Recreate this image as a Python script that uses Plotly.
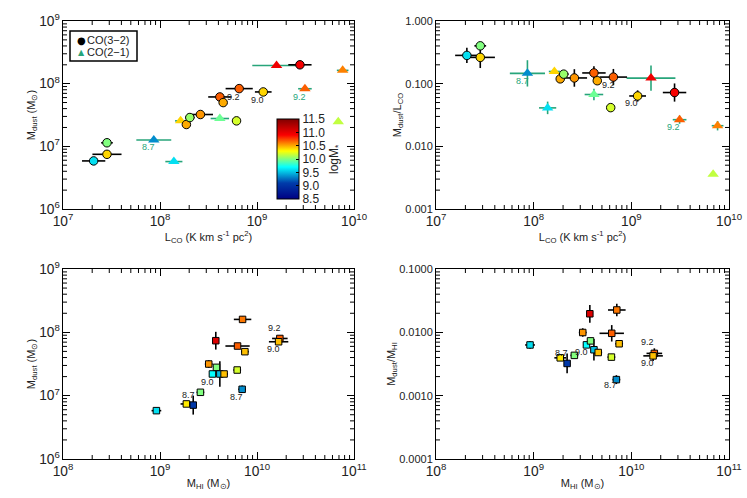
import numpy as np
import plotly.graph_objects as go

# ---------------- data ----------------
# CO(3-2) galaxies (circles)
c32_lco = [2.07e7, 2.84e7, 2.84e7, 1.87e8, 2.03e8, 2.61e8, 6.15e8, 4.14e8, 4.48e8, 6.55e8, 1.16e9, 2.77e9]
c32_mdust = [5.85e6, 7.46e6, 1.14e7, 2.23e7, 2.88e7, 3.22e7, 2.55e7, 6.14e7, 4.99e7, 8.34e7, 7.38e7, 2.00e8]
c32_logm = [9.6, 10.4, 10.0, 10.5, 10.05, 10.55, 10.2, 10.68, 10.5, 10.68, 10.4, 10.92]
c32_lco_err = [0.12, 0.15, 0.06, 0.0, 0.05, 0.13, 0.0, 0.12, 0.0, 0.14, 0.086, 0.12]   # dex
c32_ratio_err = [0.12, 0.17, 0.06, 0.0, 0.0, 0.14, 0.0, 0.105, 0.0, 0.13, 0.09, 0.145]  # dex

# CO(2-1) galaxies (triangles)
c21_lco = [8.63e7, 1.39e8, 1.63e8, 4.14e8, 1.59e9, 3.12e9, 6.88e9, 7.64e9]
c21_mdust = [1.26e7, 5.71e6, 2.55e7, 2.78e7, 1.95e8, 8.3e7, 2.47e7, 1.63e8]
c21_logm = [9.35, 9.6, 10.4, 9.95, 10.95, 10.68, 10.15, 10.6]
c21_lco_err = [0.18, 0.088, 0.057, 0.095, 0.25, 0.07, 0.0, 0.06]
c21_ratio_err = [0.21, 0.10, 0.0, 0.09, 0.20, 0.065, 0.0, 0.075]

# HI sample (squares)
hi_mhi = [9.18e8, 1.87e9, 2.2e9, 2.61e9, 3.18e9, 3.47e9, 3.82e9, 3.76e9, 4.14e9, 4.58e9,
          6.25e9, 7.03e9, 6.3e9, 7.5e9, 7.1e9, 1.72e10, 1.67e10]
hi_mdust = [5.8e6, 7.4e6, 7.1e6, 1.13e7, 3.16e7, 2.2e7, 2.8e7, 7.38e7, 2.2e7, 2.2e7,
            2.54e7, 1.26e7, 6.08e7, 4.95e7, 1.6e8, 8.0e7, 7.1e7]
hi_logm = [9.6, 10.35, 9.05, 10.0, 10.55, 9.7, 10.0, 11.05, 9.5, 10.45,
           10.2, 9.35, 10.68, 10.45, 10.62, 10.68, 10.45]
hi_mhi_err = [0.05, 0.06, 0.03, 0.04, 0.04, 0.03, 0.03, 0.03, 0.03, 0.04,
              0.04, 0.04, 0.125, 0.04, 0.09, 0.08, 0.10]
hi_mdust_err = [0.03, 0.03, 0.15, 0.03, 0.06, 0.03, 0.03, 0.14, 0.2, 0.03,
                0.03, 0.06, 0.04, 0.03, 0.05, 0.03, 0.03]
hi_ratio_err = [0.06, 0.05, 0.155, 0.04, 0.067, 0.04, 0.04, 0.14, 0.17, 0.05,
                0.05, 0.07, 0.13, 0.05, 0.10, 0.08, 0.08]

# metallicity labels: (text, x, y, colour-key)
labels_tl = [("9.2", 5.7e8, 6.1e7, "k"), ("9.0", 1.0e9, 5.4e7, "k"),
             ("8.7", 7.66e7, 9.9e6, "g"), ("9.2", 2.72e9, 6.1e7, "g")]
labels_tr = [("8.7", 7.6e7, 0.110, "g"), ("9.2", 5.77e8, 0.094, "k"),
             ("9.0", 1.0e9, 0.049, "k"), ("9.2", 2.71e9, 0.020, "g")]
labels_bl = [("9.2", 1.53e10, 1.16e8, "k"), ("9.0", 1.47e10, 5.46e7, "k"),
             ("9.0", 3.06e9, 1.62e7, "k"), ("8.7", 1.95e9, 1.02e7, "k"),
             ("8.7", 6.15e9, 9.4e6, "k")]
labels_br = [("9.2", 1.48e10, 0.0070, "k"), ("9.0", 1.45e10, 0.00334, "k"),
             ("8.7", 1.95e9, 0.0048, "k"), ("9.0", 3.08e9, 0.0049, "k"),
             ("8.7", 6.1e9, 0.00145, "k")]

cbar_ticks = [8.5, 9.0, 9.5, 10.0, 10.5, 11.0, 11.5]
legend_names = ["CO(3\u22122)", "CO(2\u22121)"]

# ---------------- helpers ----------------
GREEN = "#27a57a"
FONT = "Liberation Sans, Arial, sans-serif"
TXT = "#222222"
CMIN, CMAX = 8.5, 11.5
W, H = 747, 498


def errs(vals, dex):
    v = np.asarray(vals, float)
    d = np.asarray(dex, float)
    return v * (10 ** d - 1), v * (1 - 10 ** (-d))


c32_ratio = list(np.array(c32_mdust) / np.array(c32_lco))
c21_ratio = list(np.array(c21_mdust) / np.array(c21_lco))
hi_ratio = list(np.array(hi_mdust) / np.array(hi_mhi))

fig = go.Figure()


def add_pts(x, y, c, xerr, yerr, symbol, size, ecol, xa, ya, linew, lcol="black", showscale=False):
    marker = dict(color=c, colorscale="Jet", cmin=CMIN, cmax=CMAX, size=size,
                  symbol=symbol, line=dict(color=lcol, width=linew))
    if showscale:
        marker.update(showscale=True, colorbar=dict(
            x=277 / W, xanchor="left", xpad=0, ypad=0,
            y=1 - 159 / H, yanchor="middle",
            len=80 / H, lenmode="fraction", thickness=22, thicknessmode="pixels",
            outlinewidth=1, outlinecolor="black", ticks="inside", ticklen=3,
            tickcolor="black", tickvals=cbar_ticks,
            ticktext=["%.1f" % t for t in cbar_ticks],
            tickfont=dict(size=12, family=FONT, color=TXT)))
    tr = dict(x=x, y=y, mode="markers", marker=marker, showlegend=False,
              xaxis=xa, yaxis=ya, hoverinfo="skip")
    if xerr is not None:
        p, m = errs(x, xerr)
        tr["error_x"] = dict(type="data", array=p, arrayminus=m, color=ecol,
                             thickness=1.6, width=0)
    if yerr is not None:
        p, m = errs(y, yerr)
        tr["error_y"] = dict(type="data", array=p, arrayminus=m, color=ecol,
                             thickness=1.6, width=0)
    fig.add_trace(go.Scatter(**tr))


# top-left
add_pts(c21_lco, c21_mdust, c21_logm, c21_lco_err, None, "triangle-up", 10, GREEN, "x", "y", 0)
add_pts(c32_lco, c32_mdust, c32_logm, c32_lco_err, None, "circle", 8.5, "black", "x", "y", 1, showscale=True)
# top-right
add_pts(c21_lco, c21_ratio, c21_logm, c21_lco_err, c21_ratio_err, "triangle-up", 10, GREEN, "x2", "y2", 0)
add_pts(c32_lco, c32_ratio, c32_logm, c32_lco_err, c32_ratio_err, "circle", 8.5, "black", "x2", "y2", 1)
# bottom-left
add_pts(hi_mhi, hi_mdust, hi_logm, hi_mhi_err, hi_mdust_err, "square", 6.5, "black", "x3", "y3", 1)
# bottom-right
add_pts(hi_mhi, hi_ratio, hi_logm, hi_mhi_err, hi_ratio_err, "square", 6.5, "black", "x4", "y4", 1)

# metallicity annotations
for labs, xa, ya in [(labels_tl, "x", "y"), (labels_tr, "x2", "y2"),
                     (labels_bl, "x3", "y3"), (labels_br, "x4", "y4")]:
    for t, lx, ly, col in labs:
        fig.add_annotation(x=np.log10(lx), y=np.log10(ly), xref=xa, yref=ya, text=t,
                           showarrow=False,
                           font=dict(size=9, family=FONT,
                                     color=GREEN if col == "g" else TXT))

# colorbar title
fig.add_annotation(x=335 / W, y=1 - 159 / H, xref="paper", yref="paper",
                   xanchor="center", yanchor="middle",
                   text="logM<sub>*</sub>", textangle=-90, showarrow=False,
                   font=dict(size=12, family=FONT, color=TXT))

# hand-drawn legend (box + symbols as text)
fig.add_shape(type="rect", xref="paper", yref="paper",
              x0=70 / W, x1=137 / W, y0=1 - 61 / H, y1=1 - 31 / H,
              line=dict(color="black", width=1.5), fillcolor="white", layer="above")
for i, (sym, col, fs) in enumerate([("\u25cf", "black", 10), ("\u25b2", GREEN, 8)]):
    yy = 1 - (40 + 12.5 * i) / H
    fig.add_annotation(x=81 / W, y=yy, xref="paper", yref="paper", text=sym,
                       xanchor="center", yanchor="middle",
                       showarrow=False, font=dict(size=fs, color=col, family="DejaVu Sans"))
    fig.add_annotation(x=85 / W, y=yy, xref="paper", yref="paper", text=legend_names[i],
                       xanchor="left", yanchor="middle", showarrow=False,
                       font=dict(size=11, family=FONT, color=TXT))

# ---------------- axes ----------------
xl = [63 / W, 354 / W]
xr = [436 / W, 729 / W]
yt = [1 - 209 / H, 1 - 21 / H]
yb = [1 - 459 / H, 1 - 269 / H]


def minor_logs(rng):
    # log10 positions of the 2..9 minor ticks in each decade
    return [e + np.log10(k) for e in range(rng[0], rng[1]) for k in range(2, 10)]


def ax(domain, rng, title, anchor, fmt=None):
    d = dict(type="log", domain=domain, range=rng, dtick=1, exponentformat="power",
             showline=True, linecolor="black", linewidth=1, mirror="allticks",
             ticks="inside", ticklen=7, tickcolor="black", showgrid=False,
             zeroline=False, anchor=anchor, automargin=False,
             tickfont=dict(size=11, family=FONT, color=TXT),
             title=dict(text=title, font=dict(size=11, family=FONT, color=TXT),
                        standoff=1))
    if fmt:
        d["tickformat"] = fmt
        d["exponentformat"] = "none"
    return d


LCO = "L<sub>CO</sub> (K km s<sup>-1</sup> pc<sup>2</sup>)"
MHI = "M<sub>HI</sub> (M<sub>\u2299</sub>)"
MD = "M<sub>dust</sub> (M<sub>\u2299</sub>)"

panels = [
    ("x", "y", xl, yt, [7, 10], [6, 9], LCO, MD, None),
    ("x2", "y2", xr, yt, [7, 10], [-3, 0], LCO, "M<sub>dust</sub>/L<sub>CO</sub>", ".3f"),
    ("x3", "y3", xl, yb, [8, 11], [6, 9], MHI, MD, None),
    ("x4", "y4", xr, yb, [8, 11], [-4, -1], MHI, "M<sub>dust</sub>/M<sub>HI</sub>", ".4f"),
]
lay = {}
MTX = 4.0 / W  # minor tick length in paper units (horizontal)
MTY = 4.0 / H  # minor tick length in paper units (vertical)
tick_line = dict(color="black", width=1)
for i, (xa, ya, xd, yd, xrg, yrg, xt, ytt, fmt) in enumerate(panels):
    lay["xaxis" + xa[1:]] = ax(xd, xrg, xt, ya)
    lay["yaxis" + ya[1:]] = ax(yd, yrg, ytt, xa, fmt)
    # minor ticks (axis decoration), inside on all four sides, in paper units
    for lv in minor_logs(xrg):
        px = xd[0] + (lv - xrg[0]) / (xrg[1] - xrg[0]) * (xd[1] - xd[0])
        for a, b in [(yd[0], yd[0] + MTY), (yd[1] - MTY, yd[1])]:
            fig.add_shape(type="line", xref="paper", yref="paper",
                          x0=px, x1=px, y0=a, y1=b, line=tick_line, layer="above")
    for lv in minor_logs(yrg):
        py = yd[0] + (lv - yrg[0]) / (yrg[1] - yrg[0]) * (yd[1] - yd[0])
        for a, b in [(xd[0], xd[0] + MTX), (xd[1] - MTX, xd[1])]:
            fig.add_shape(type="line", xref="paper", yref="paper",
                          y0=py, y1=py, x0=a, x1=b, line=tick_line, layer="above")

fig.update_layout(
    width=W, height=H, margin=dict(l=0, r=0, t=0, b=0),
    paper_bgcolor="white", plot_bgcolor="white",
    font=dict(family=FONT, color=TXT), showlegend=False,
    **lay,
)

fig.write_html("out.html", config={"displayModeBar": False, "staticPlot": True},
               post_script="document.body.style.margin='0px';document.body.style.overflow='hidden';")
